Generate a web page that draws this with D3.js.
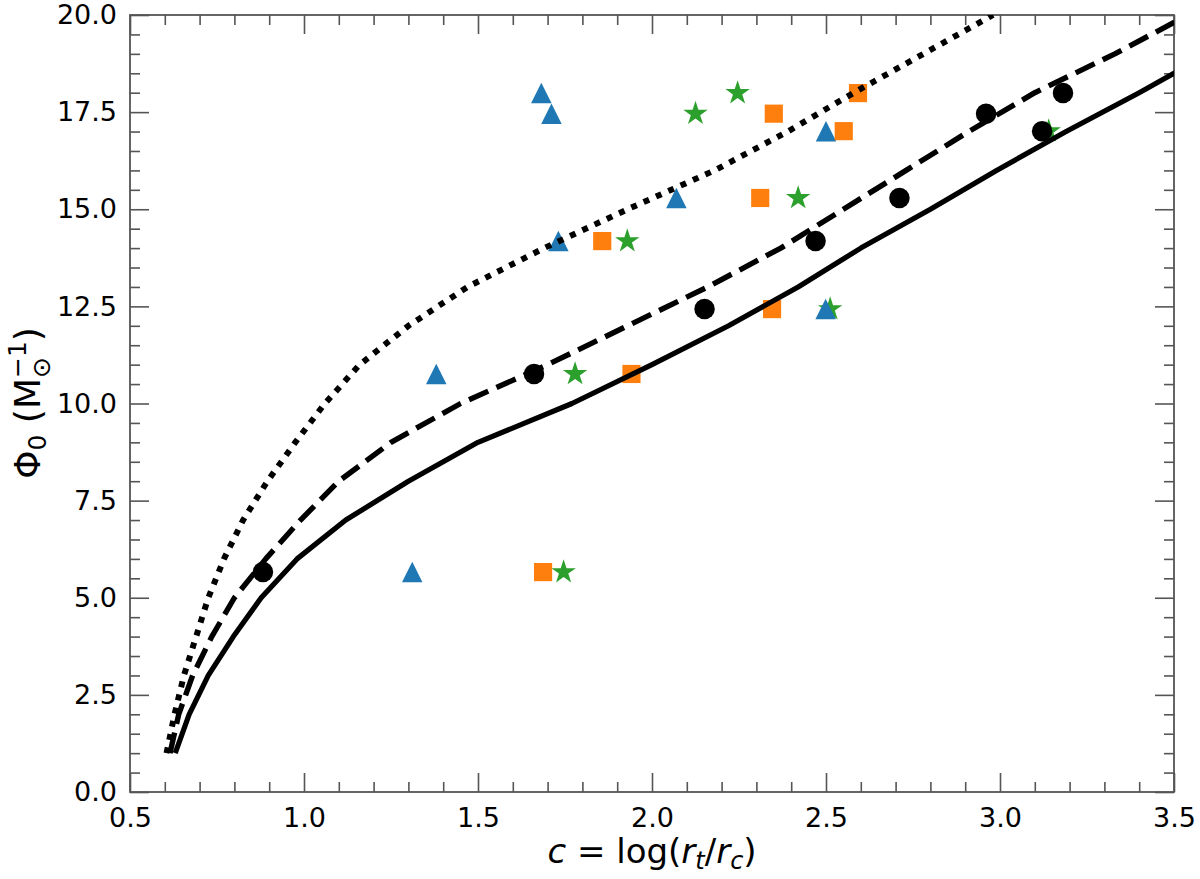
<!DOCTYPE html>
<html>
<head>
<meta charset="utf-8">
<script src="https://cdn.jsdelivr.net/npm/d3@7"></script>
<style>
  body { margin: 0; background: #fff; }
  svg { display: block; font-family: "DejaVu Sans", sans-serif; }
</style>
</head>
<body>
<svg id="chart" width="1200" height="879"></svg>
<script>
// model curves, Phi0 sampled at integer values
const phiGrid = [1, 2, 3, 4, 5, 6, 7, 8, 9, 10, 11, 12, 13, 14, 15, 16, 17, 18, 19, 20];
const solidC  = [0.63, 0.67, 0.725, 0.797, 0.877, 0.98, 1.12, 1.30, 1.50, 1.77, 2.00, 2.22, 2.42, 2.60, 2.80, 2.99, 3.19, 3.40, 3.60];
const dashedC = [0.615, 0.64, 0.68, 0.735, 0.80, 0.89, 0.99, 1.10, 1.25, 1.45, 1.70, 1.93, 2.16, 2.37, 2.55, 2.73, 2.91, 3.10, 3.33, 3.54];
const dottedC = [0.605, 0.628, 0.655, 0.69, 0.725, 0.77, 0.825, 0.895, 0.975, 1.06, 1.16, 1.30, 1.47, 1.69, 1.93, 2.18, 2.39, 2.58, 2.78, 2.98];

// observed points, all four sets share the same Phi0 values
const phiObs     = [5.66, 10.76, 12.43, 14.18, 15.29, 17.01, 17.46, 17.99];
const circleC    = [0.882, 1.661, 2.151, 2.470, 2.711, 3.121, 2.960, 3.181];
const squareC    = [1.687, 1.941, 2.345, 1.857, 2.311, 2.551, 2.350, 2.592];
const triangleC  = [1.311, 1.380, 2.499, 1.731, 2.070, 2.500, 1.711, 1.682];
const starC      = [1.746, 1.779, 2.512, 1.929, 2.420, 3.140, 2.125, 2.246];

const xTicks = [0.5, 1.0, 1.5, 2.0, 2.5, 3.0, 3.5];
const yTicks = [0, 2.5, 5, 7.5, 10, 12.5, 15, 17.5, 20];

const W = 1200, H = 879;
const margin = {top: 15, right: 26, bottom: 87, left: 130};

const svg = d3.select("#chart");

const x = d3.scaleLinear().domain([0.5, 3.5]).range([margin.left, W - margin.right]);
const y = d3.scaleLinear().domain([0, 20]).range([H - margin.bottom, margin.top]);

const xMinor = d3.range(0.5, 3.5001, 0.1).filter(v => xTicks.every(t => Math.abs(t - v) > 1e-6));
const yMinor = d3.range(0, 20.001, 0.5).filter(v => yTicks.every(t => Math.abs(t - v) > 1e-6));

const fmt = d3.format(".1f");
const tickColor = "#555";

function styleAxis(g, labels) {
    g.select(".domain").remove();
    g.selectAll(".tick line").attr("stroke", tickColor).attr("stroke-width", 1.6);
    g.selectAll(".tick text")
        .attr("fill", labels ? "#000" : "none")
        .attr("font-size", 27)
        .attr("font-family", "DejaVu Sans");
}

const bottomY = H - margin.bottom, topY = margin.top;
const leftX = margin.left, rightX = W - margin.right;

// bottom
svg.append("g").attr("transform", `translate(0,${bottomY})`)
    .call(d3.axisBottom(x).tickValues(xTicks).tickFormat(fmt).tickSize(-19).tickSizeOuter(0).tickPadding(16))
    .call(g => styleAxis(g, true));
svg.append("g").attr("transform", `translate(0,${bottomY})`)
    .call(d3.axisBottom(x).tickValues(xMinor).tickFormat("").tickSize(-10).tickSizeOuter(0))
    .call(g => styleAxis(g, false));
// top
svg.append("g").attr("transform", `translate(0,${topY})`)
    .call(d3.axisTop(x).tickValues(xTicks).tickFormat("").tickSize(-19).tickSizeOuter(0))
    .call(g => styleAxis(g, false));
svg.append("g").attr("transform", `translate(0,${topY})`)
    .call(d3.axisTop(x).tickValues(xMinor).tickFormat("").tickSize(-10).tickSizeOuter(0))
    .call(g => styleAxis(g, false));
// left
svg.append("g").attr("transform", `translate(${leftX},0)`)
    .call(d3.axisLeft(y).tickValues(yTicks).tickFormat(fmt).tickSize(-19).tickSizeOuter(0).tickPadding(13))
    .call(g => styleAxis(g, true));
svg.append("g").attr("transform", `translate(${leftX},0)`)
    .call(d3.axisLeft(y).tickValues(yMinor).tickFormat("").tickSize(-10).tickSizeOuter(0))
    .call(g => styleAxis(g, false));
// right
svg.append("g").attr("transform", `translate(${rightX},0)`)
    .call(d3.axisRight(y).tickValues(yTicks).tickFormat("").tickSize(-19).tickSizeOuter(0))
    .call(g => styleAxis(g, false));
svg.append("g").attr("transform", `translate(${rightX},0)`)
    .call(d3.axisRight(y).tickValues(yMinor).tickFormat("").tickSize(-10).tickSizeOuter(0))
    .call(g => styleAxis(g, false));

// frame
svg.append("rect")
    .attr("x", x.range()[0]).attr("y", y.range()[1])
    .attr("width", x.range()[1] - x.range()[0])
    .attr("height", y.range()[0] - y.range()[1])
    .attr("fill", "none").attr("stroke", tickColor).attr("stroke-width", 1.8);

svg.append("clipPath").attr("id", "plotClip")
    .append("rect")
    .attr("x", x.range()[0]).attr("y", y.range()[1])
    .attr("width", x.range()[1] - x.range()[0])
    .attr("height", y.range()[0] - y.range()[1]);

const plot = svg.append("g").attr("clip-path", "url(#plotClip)");

// matplotlib-like '^' marker: width equals height, centred at half height
const mplTriangle = {
    draw(ctx, size) {
        const s = Math.sqrt(size) / 2;
        ctx.moveTo(0, -s);
        ctx.lineTo(s, s);
        ctx.lineTo(-s, s);
        ctx.closePath();
    }
};

function drawMarkers(cs, type, size, color) {
    plot.append("g").selectAll("path")
        .data(d3.zip(cs, phiObs))
        .join("path")
        .attr("transform", d => `translate(${x(d[0])},${y(d[1])})`)
        .attr("d", d3.symbol(type, size))
        .attr("fill", color);
}

drawMarkers(starC, d3.symbolStar, 185, "#2ca02c");
drawMarkers(triangleC, mplTriangle, 420, "#1f77b4");
drawMarkers(squareC, d3.symbolSquare, 330, "#ff7f0e");
drawMarkers(circleC, d3.symbolCircle, 330, "#000");

const line = d3.line().x(d => x(d[0])).y(d => y(d[1]));

function drawCurve(cs, width, dash) {
    plot.append("path")
        .datum(d3.zip(cs, phiGrid))
        .attr("d", line)
        .attr("fill", "none")
        .attr("stroke", "#000")
        .attr("stroke-width", width)
        .attr("stroke-linejoin", "round")
        .attr("stroke-dasharray", dash);
}

drawCurve(solidC, 5.2, null);
drawCurve(dashedC, 5.4, "21,9");
drawCurve(dottedC, 6, "6,7.5");

// x label
const xl = svg.append("text")
    .attr("x", (x.range()[0] + x.range()[1]) / 2)
    .attr("y", 863)
    .attr("text-anchor", "middle")
    .attr("font-size", 34);
xl.append("tspan").attr("font-style", "italic").text("c");
xl.append("tspan").text(" = log(");
xl.append("tspan").attr("font-style", "italic").text("r");
xl.append("tspan").attr("font-style", "italic").attr("font-size", 24).attr("dy", 6).text("t");
xl.append("tspan").attr("dy", -6).text("/");
xl.append("tspan").attr("font-style", "italic").text("r");
xl.append("tspan").attr("font-style", "italic").attr("font-size", 24).attr("dy", 6).text("c");
xl.append("tspan").attr("dy", -6).text(")");

// y label
const yl = svg.append("text")
    .attr("transform", "translate(40,403) rotate(-90)")
    .attr("text-anchor", "middle")
    .attr("font-size", 36);
yl.append("tspan").text("Φ");
yl.append("tspan").attr("font-size", 25).attr("dy", 6).text("0");
yl.append("tspan").attr("dy", -6).text(" (M");
const sup = yl.append("tspan").attr("font-size", 25).attr("dy", -14).text("−1");
const supW = sup.node().getComputedTextLength();
yl.append("tspan").attr("font-size", 25).attr("dx", -supW).attr("dy", 24).text("⊙");
yl.append("tspan").attr("dy", -10).attr("dx", Math.max(0, supW - 21)).text(")");
</script>
</body>
</html>
